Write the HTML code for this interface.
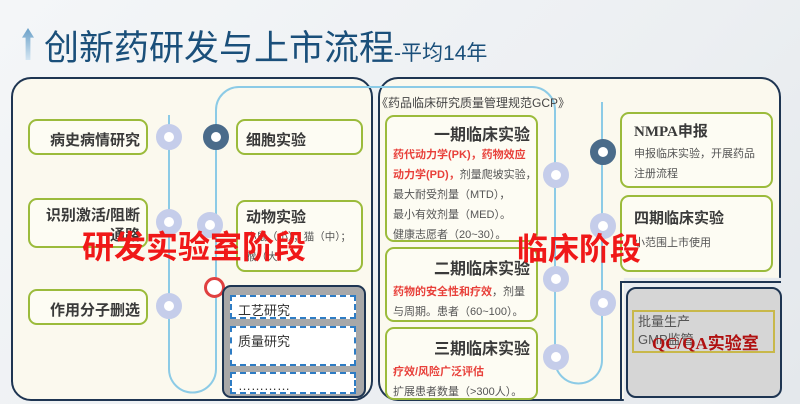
<!DOCTYPE html>
<html><head><meta charset="utf-8"><style>
*{margin:0;padding:0;box-sizing:border-box}
html,body{width:800px;height:404px;overflow:hidden}
body{background:linear-gradient(135deg,#f4f6f8,#eceff2 60%,#e4e8ec);font-family:"Liberation Sans","Noto Sans CJK SC",sans-serif;position:relative}
.a{position:absolute}
.panel{position:absolute;border:2px solid #1e3552;border-radius:20px;background:#fbf9ee}
.g{position:absolute;border:2px solid #9bbb3b;border-radius:9px;background:#fdfcf3;color:#333}
.b{font-weight:bold;font-size:15px;color:#3a3a3a}
.d{position:absolute;width:26px;height:26px;border-radius:50%;border:8px solid #c5cdea;background:#fff;margin:-13px 0 0 -13px}
.dk{border-color:#4a6b8a}
.sm{font-size:11px;color:#555;line-height:19px;white-space:nowrap}
.red{color:#e8403a;font-weight:bold}
.dash{position:absolute;left:6px;width:126px;border:2px dashed #2e7cc4;background:#fff;font-size:13px;color:#333;padding:3px 6px}
</style></head><body>
<div class="a" style="left:22px;top:28px;width:12px;height:32px;background:linear-gradient(#6aa0c8,#d5e6f2);clip-path:polygon(50% 0,100% 30%,70% 30%,70% 100%,30% 100%,30% 30%,0 30%)"></div>
<div class="a" style="left:44px;top:20px;font-size:35px;color:#1a4f7a;white-space:nowrap">创新药研发与上市流程<span style="font-size:21px">-平均14年</span></div>

<div class="panel" style="left:11px;top:77px;width:362px;height:324px"></div>
<div class="panel" style="left:378px;top:77px;width:403px;height:324px;clip-path:polygon(0 0,100% 0,100% 62%,61% 62%,61% 100%,0 100%)"></div>
<div class="a" style="left:620px;top:281px;width:161px;height:2px;background:#1e3552"></div>
<div class="a" style="left:620px;top:281px;width:2px;height:120px;background:#1e3552"></div>

<svg class="a" style="left:0;top:0" width="800" height="404">
<path d="M169,115 V369 A23.5,23.5 0 0 0 216,369 V110 A23,23 0 0 1 239,87 H532 A23,23 0 0 1 555,110 V360 A23.5,23.5 0 0 0 602,360 V102" fill="none" stroke="#8ccbe6" stroke-width="2"/>
</svg>

<!-- left boxes -->
<div class="g b" style="left:28px;top:119px;width:120px;height:36px;text-align:right;padding:8px 6px 0 0">病史病情研究</div>
<div class="g b" style="left:28px;top:198px;width:120px;height:50px;text-align:right;padding:6px 6px 0 0;line-height:20px">识别激活/阻断<br>通路</div>
<div class="g b" style="left:28px;top:289px;width:120px;height:36px;text-align:right;padding:8px 6px 0 0">作用分子删选</div>
<div class="g b" style="left:236px;top:119px;width:127px;height:36px;padding:8px 0 0 8px">细胞实验</div>
<div class="g" style="left:236px;top:200px;width:127px;height:72px;padding:4px 0 0 8px"><div class="b">动物实验</div><div class="sm" style="font-size:10.5px;line-height:20px">小鼠（小）；猫（中）；<br>猴（大）</div></div>

<div class="d" style="left:169px;top:137px"></div>
<div class="d" style="left:169px;top:222px"></div>
<div class="d" style="left:169px;top:306px"></div>
<div class="d dk" style="left:216px;top:137px"></div>
<div class="d" style="left:210px;top:225px"></div>
<div class="a" style="left:204px;top:277px;width:21px;height:21px;border:3px solid #e04040;border-radius:50%;background:#fff"></div>

<div class="a" style="left:222px;top:285px;width:144px;height:113px;border:2px solid #1e3552;border-radius:9px;background:#a8a8a8">
<div class="dash" style="top:8px;height:24px">工艺研究</div>
<div class="dash" style="top:39px;height:40px">质量研究</div>
<div class="dash" style="top:85px;height:22px;padding-top:4px">…………</div>
</div>

<div class="a" style="left:82px;top:222px;font-size:32px;font-weight:bold;color:#f01818;white-space:nowrap">研发实验室阶段</div>

<!-- right -->
<div class="a" style="left:376px;top:94px;font-size:12px;color:#444;white-space:nowrap">《药品临床研究质量管理规范GCP》</div>
<div class="g" style="left:385px;top:115px;width:153px;height:127px;padding:4px 6px 0 6px">
<div class="b" style="text-align:right;font-size:16px">一期临床实验</div>
<div class="sm" style="line-height:20px"><span class="red">药代动力学(PK)，药物效应<br>动力学(PD)，</span>剂量爬坡实验，<br>最大耐受剂量（MTD），<br>最小有效剂量（MED）。<br>健康志愿者（20~30）。</div></div>
<div class="g" style="left:385px;top:247px;width:153px;height:75px;padding:6px 6px 0 6px">
<div class="b" style="text-align:right;font-size:16px">二期临床实验</div>
<div class="sm" style="line-height:20px;margin-top:3px"><span class="red">药物的安全性和疗效</span>，剂量<br>与周期。患者（60~100）。</div></div>
<div class="g" style="left:385px;top:327px;width:153px;height:73px;padding:6px 6px 0 6px">
<div class="b" style="text-align:right;font-size:16px">三期临床实验</div>
<div class="sm" style="line-height:20px;margin-top:3px"><span class="red">疗效/风险广泛评估</span><br>扩展患者数量（>300人）。</div></div>

<div class="g" style="left:620px;top:112px;width:153px;height:76px;padding:6px 0 0 12px">
<div class="b" style="font-size:15px;font-family:'Liberation Serif','Noto Sans CJK SC',serif">NMPA申报</div>
<div class="sm" style="line-height:20px;margin-top:3px">申报临床实验，开展药品<br>注册流程</div></div>
<div class="g" style="left:620px;top:195px;width:153px;height:77px;padding:10px 0 0 12px">
<div class="b" style="font-size:15px">四期临床实验</div>
<div class="sm" style="margin-top:6px">小范围上市使用</div></div>

<div class="d" style="left:556px;top:175px"></div>
<div class="d" style="left:556px;top:279px"></div>
<div class="d" style="left:556px;top:357px"></div>
<div class="d dk" style="left:603px;top:152px"></div>
<div class="d" style="left:603px;top:226px"></div>
<div class="d" style="left:603px;top:303px"></div>

<div class="a" style="left:626px;top:287px;width:156px;height:111px;border:2px solid #1e3552;border-radius:10px;background:#d6d6d6">
<div class="a" style="left:4px;top:21px;width:143px;height:43px;border:2px solid #c8b84a"></div>
<div class="a" style="left:10px;top:24px;font-size:13px;color:#555;line-height:18px">批量生产<br>GMP监管</div>
<div class="a" style="left:24px;top:40px;font-size:17px;font-weight:bold;color:#b01010;white-space:nowrap;font-family:'Liberation Serif','Noto Sans CJK SC',serif">QC/QA实验室</div>
</div>

<div class="a" style="left:517px;top:224px;font-size:31px;font-weight:bold;color:#f01818;white-space:nowrap">临床阶段</div>
</body></html>
